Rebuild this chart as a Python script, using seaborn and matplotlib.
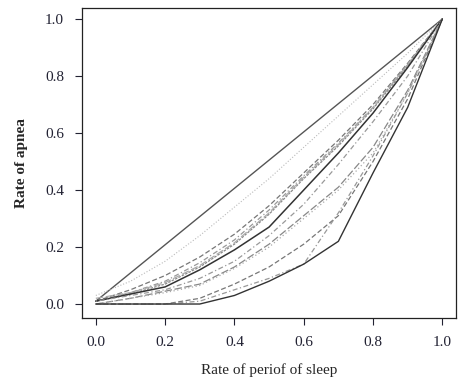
import numpy as np
import pandas as pd
import matplotlib
matplotlib.use("Agg")
import matplotlib.pyplot as plt
import seaborn as sns

# =========================
# DATA
# =========================
rate_sleep = [0.0, 0.1, 0.2, 0.3, 0.4, 0.5, 0.6, 0.7, 0.8, 0.9, 1.0]

# equality line (only endpoints)
equality_x = [0.0, 1.0]
equality_y = [0.01, 1.0]

curve_a = [0.03, 0.08, 0.15, 0.24, 0.34, 0.44, 0.55, 0.66, 0.77, 0.88, 1.0]
curve_b = [0.01, 0.05, 0.10, 0.165, 0.245, 0.345, 0.46, 0.575, 0.70, 0.845, 1.0]
curve_c = [0.01, 0.04, 0.08, 0.145, 0.225, 0.33, 0.45, 0.565, 0.69, 0.84, 1.0]
curve_d = [0.01, 0.035, 0.07, 0.13, 0.21, 0.315, 0.44, 0.555, 0.685, 0.835, 1.0]
curve_e = [0.02, 0.04, 0.075, 0.135, 0.215, 0.32, 0.445, 0.56, 0.69, 0.84, 1.0]
curve_f = [0.01, 0.035, 0.06, 0.12, 0.19, 0.27, 0.40, 0.53, 0.67, 0.83, 1.0]
curve_g = [0.01, 0.03, 0.05, 0.09, 0.15, 0.24, 0.35, 0.49, 0.64, 0.80, 1.0]
curve_h = [0.0, 0.02, 0.045, 0.07, 0.13, 0.21, 0.31, 0.41, 0.55, 0.75, 1.0]
curve_i = [0.0, 0.02, 0.04, 0.065, 0.125, 0.20, 0.30, 0.40, 0.53, 0.74, 1.0]
curve_j = [0.0, 0.0, 0.0, 0.02, 0.07, 0.13, 0.21, 0.31, 0.50, 0.72, 1.0]
curve_k = [0.0, 0.0, 0.0, 0.01, 0.05, 0.09, 0.14, 0.32, 0.52, 0.74, 1.0]
curve_l = [0.0, 0.0, 0.0, 0.0, 0.03, 0.08, 0.14, 0.22, 0.46, 0.69, 1.0]

curves = [curve_a, curve_b, curve_c, curve_d, curve_e, curve_f,
          curve_g, curve_h, curve_i, curve_j, curve_k, curve_l]
colors = ["#bbbbbb", "#777777", "#999999", "#888888", "#aaaaaa",
          "#333333", "#999999", "#888888", "#aaaaaa", "#777777", "#999999",
          "#333333"]
styles = [":", (0, (4, 2)), (0, (1, 2, 4, 2)), (0, (2, 1)), (0, (6, 2)),
          "-", (0, (1, 2, 4, 2)), (0, (6, 2)), (0, (1, 2)), (0, (4, 2)),
          (0, (1, 2, 4, 2)), "-"]
widths = [0.8, 0.9, 0.9, 0.9, 0.9, 1.1, 0.9, 0.9, 0.9, 0.9, 0.9, 1.0]

ticks = [0.0, 0.2, 0.4, 0.6, 0.8, 1.0]
tick_labels = ["0.0", "0.2", "0.4", "0.6", "0.8", "1.0"]

# =========================
# GRAPH
# =========================
sns.set_style("ticks")
plt.rcParams["font.family"] = ["Liberation Serif", "DejaVu Serif"]

fig = plt.figure(figsize=(4.58, 3.79), dpi=100)
ax = fig.add_axes([0.179, 0.161, 0.817, 0.818])

sns.lineplot(x=equality_x, y=equality_y, color="#555555", linewidth=1.0,
             estimator=None, ax=ax)
for ys, c, ls, lw in zip(curves, colors, styles, widths):
    sns.lineplot(x=rate_sleep, y=ys, color=c, linestyle=ls, linewidth=lw,
                 estimator=None, ax=ax)

ax.set_xlim(-0.04, 1.04)
ax.set_ylim(-0.049, 1.039)
ax.set_xticks(ticks)
ax.set_yticks(ticks)
ax.set_xticklabels(tick_labels)
ax.set_yticklabels(tick_labels)
ax.tick_params(labelsize=11, colors="#222233", length=5, width=0.8, pad=8)
for s in ax.spines.values():
    s.set_visible(True)
    s.set_color("#222222")
    s.set_linewidth(0.9)

ax.set_xlabel("Rate of periof of sleep", fontsize=11, labelpad=10)
ax.set_ylabel("Rate of apnea", fontsize=11, fontweight="bold", labelpad=12)

fig.savefig("out.png", dpi=100)
plt.close()
